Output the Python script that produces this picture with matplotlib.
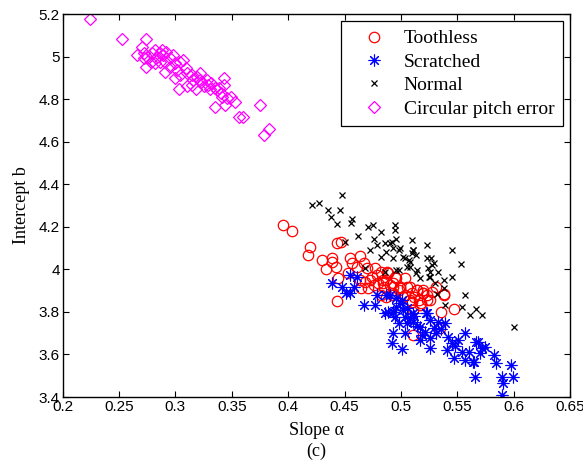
import matplotlib
matplotlib.use("Agg")
import matplotlib.pyplot as plt

# Toothless (red circles)
tooth_x = [0.395, 0.403, 0.419, 0.418, 0.430, 0.434, 0.439, 0.439, 0.442, 0.443,
           0.447, 0.444, 0.443, 0.455, 0.457, 0.464, 0.467, 0.461, 0.453, 0.470,
           0.477, 0.479, 0.473, 0.471, 0.480, 0.485, 0.489, 0.487, 0.493, 0.496,
           0.504, 0.499, 0.505, 0.510, 0.514, 0.520, 0.516, 0.523, 0.492, 0.482,
           0.464, 0.465, 0.488, 0.495, 0.484, 0.490, 0.499, 0.508, 0.514, 0.520,
           0.523, 0.538, 0.547, 0.536, 0.517, 0.510, 0.504, 0.493, 0.484, 0.493,
           0.487, 0.508, 0.511, 0.518, 0.526, 0.511, 0.535, 0.538, 0.520, 0.474,
           0.482, 0.468, 0.476, 0.498, 0.502, 0.512, 0.528, 0.531]
tooth_y = [4.209, 4.180, 4.107, 4.068, 4.044, 4.000, 4.052, 4.036, 4.010, 4.122,
           4.130, 3.958, 3.853, 4.052, 4.028, 4.063, 4.028, 4.013, 3.982, 4.005,
           4.005, 3.974, 3.950, 3.911, 3.935, 3.919, 3.982, 3.950, 3.935, 3.958,
           3.958, 3.911, 3.919, 3.888, 3.903, 3.888, 3.856, 3.856, 3.880, 3.880,
           3.950, 3.911, 3.989, 3.966, 3.950, 3.927, 3.919, 3.919, 3.903, 3.903,
           3.880, 3.880, 3.812, 3.801, 3.833, 3.848, 3.880, 3.888, 3.934, 3.919,
           3.872, 3.856, 3.809, 3.840, 3.856, 3.692, 3.723, 3.884, 3.888, 3.965,
           3.990, 3.940, 3.925, 3.905, 3.870, 3.870, 3.895, 3.915]

# Scratched (blue asterisks)
scr_x = [0.455, 0.461, 0.439, 0.448, 0.458, 0.451, 0.455, 0.467, 0.477, 0.479,
         0.487, 0.496, 0.499, 0.489, 0.493, 0.495, 0.505, 0.511, 0.522, 0.490,
         0.486, 0.493, 0.496, 0.501, 0.504, 0.498, 0.505, 0.511, 0.517, 0.523,
         0.526, 0.529, 0.521, 0.493, 0.504, 0.492, 0.501, 0.517, 0.526, 0.526,
         0.533, 0.539, 0.542, 0.545, 0.541, 0.547, 0.551, 0.557, 0.554, 0.557,
         0.564, 0.567, 0.566, 0.568, 0.572, 0.570, 0.575, 0.565, 0.583, 0.584,
         0.590, 0.591, 0.590, 0.598, 0.599, 0.508, 0.514, 0.531, 0.536, 0.548,
         0.560, 0.502, 0.519, 0.512]
scr_y = [3.974, 3.963, 3.938, 3.919, 3.919, 3.888, 3.888, 3.833, 3.833, 3.880,
         3.880, 3.864, 3.840, 3.801, 3.801, 3.778, 3.817, 3.794, 3.794, 3.880,
         3.793, 3.801, 3.825, 3.856, 3.778, 3.746, 3.746, 3.754, 3.731, 3.793,
         3.762, 3.723, 3.707, 3.699, 3.703, 3.652, 3.626, 3.668, 3.676, 3.629,
         3.754, 3.746, 3.684, 3.652, 3.621, 3.582, 3.668, 3.699, 3.613, 3.574,
         3.566, 3.660, 3.496, 3.660, 3.629, 3.605, 3.637, 3.566, 3.597, 3.558,
         3.493, 3.464, 3.409, 3.550, 3.496, 3.770, 3.735, 3.700, 3.720, 3.640,
         3.610, 3.810, 3.690, 3.780]

# Normal (black crosses)
norm_x = [0.448, 0.421, 0.427, 0.435, 0.446, 0.438, 0.443, 0.457, 0.456, 0.462,
          0.471, 0.475, 0.482, 0.495, 0.495, 0.476, 0.479, 0.486, 0.490, 0.496,
          0.510, 0.493, 0.499, 0.487, 0.473, 0.482, 0.493, 0.507, 0.511, 0.513,
          0.505, 0.498, 0.514, 0.523, 0.523, 0.524, 0.468, 0.450, 0.502, 0.513,
          0.517, 0.492, 0.498, 0.511, 0.510, 0.545, 0.527, 0.529, 0.504, 0.508,
          0.508, 0.553, 0.486, 0.496, 0.526, 0.533, 0.526, 0.538, 0.545, 0.530,
          0.538, 0.532, 0.557, 0.539, 0.554, 0.561, 0.567, 0.572, 0.600, 0.528,
          0.525]
norm_y = [4.350, 4.303, 4.311, 4.279, 4.279, 4.245, 4.213, 4.235, 4.217, 4.157,
          4.201, 4.209, 4.177, 4.209, 4.185, 4.141, 4.115, 4.122, 4.122, 4.141,
          4.138, 4.099, 4.099, 4.083, 4.091, 4.060, 4.052, 4.044, 4.091, 4.068,
          4.013, 3.997, 3.997, 4.115, 4.052, 4.005, 4.005, 4.130, 4.060, 3.982,
          3.958, 4.130, 4.091, 4.091, 4.076, 4.091, 4.052, 4.028, 4.052, 4.036,
          4.013, 4.025, 3.989, 3.997, 3.989, 3.989, 3.966, 3.950, 3.966, 3.935,
          3.911, 3.884, 3.880, 3.833, 3.822, 3.786, 3.812, 3.786, 3.728, 4.021,
          3.963]

# Circular pitch error (magenta diamonds)
cpe_x = [0.224, 0.253, 0.274, 0.270, 0.266, 0.274, 0.272, 0.275, 0.279, 0.282,
         0.283, 0.286, 0.289, 0.292, 0.291, 0.295, 0.298, 0.300, 0.304, 0.301,
         0.307, 0.309, 0.310, 0.315, 0.316, 0.319, 0.322, 0.323, 0.328, 0.329,
         0.332, 0.335, 0.337, 0.340, 0.343, 0.343, 0.341, 0.346, 0.335, 0.344,
         0.353, 0.356, 0.360, 0.375, 0.379, 0.383, 0.291, 0.300, 0.303, 0.310,
         0.318, 0.322, 0.325, 0.286, 0.282, 0.295, 0.304, 0.315, 0.331, 0.339,
         0.349, 0.272, 0.278, 0.288]
cpe_y = [5.177, 5.082, 5.083, 5.047, 5.008, 4.953, 5.019, 5.000, 5.016, 5.031,
         4.992, 5.016, 5.008, 5.024, 4.977, 4.992, 5.008, 4.969, 4.977, 4.937,
         4.984, 4.945, 4.922, 4.914, 4.890, 4.906, 4.922, 4.883, 4.890, 4.867,
         4.875, 4.851, 4.843, 4.828, 4.898, 4.867, 4.812, 4.804, 4.765, 4.773,
         4.789, 4.718, 4.715, 4.771, 4.632, 4.659, 4.930, 4.898, 4.847, 4.862,
         4.847, 4.890, 4.862, 4.977, 4.969, 4.953, 4.914, 4.867, 4.847, 4.851,
         4.812, 4.992, 4.977, 5.031]

x_ticks = [0.2, 0.25, 0.3, 0.35, 0.4, 0.45, 0.5, 0.55, 0.6, 0.65]
x_tick_labels = ['0.2', '0.25', '0.3', '0.35', '0.4', '0.45', '0.5', '0.55', '0.6', '0.65']
y_ticks = [3.4, 3.6, 3.8, 4.0, 4.2, 4.4, 4.6, 4.8, 5.0, 5.2]
y_tick_labels = ['3.4', '3.6', '3.8', '4', '4.2', '4.4', '4.6', '4.8', '5', '5.2']

serif = 'Liberation Serif'
sans = 'Liberation Sans'

fig = plt.figure(figsize=(5.83, 4.68), dpi=100)
ax = fig.add_axes([0.1075, 0.1517, 0.8702, 0.818])

star = (8, 2, 0)
ax.plot(tooth_x, tooth_y, 'o', mfc='none', mec='red', ms=7.5, mew=0.9,
        label='Toothless')
ax.plot(scr_x, scr_y, ls='none', marker=star, color='blue', ms=8.5, mew=0.8,
        label='Scratched')
ax.plot(norm_x, norm_y, 'x', color='black', ms=4.5, mew=0.9, label='Normal')
ax.plot(cpe_x, cpe_y, 'D', mfc='none', mec='magenta', ms=6, mew=0.9,
        label='Circular pitch error')

ax.set_xlim(0.2, 0.65)
ax.set_ylim(3.4, 5.2)
ax.set_xticks(x_ticks)
ax.set_xticklabels(x_tick_labels, family=sans, fontsize=11)
ax.set_yticks(y_ticks)
ax.set_yticklabels(y_tick_labels, family=sans, fontsize=11)
ax.tick_params(direction='in', top=True, right=True, length=4, width=0.8, pad=2)
for s in ax.spines.values():
    s.set_linewidth(1.0)

ax.set_xlabel('Slope α\n(c)', family=serif, fontsize=13, linespacing=1.3,
              labelpad=6)
ax.set_ylabel('Intercept b', family=serif, fontsize=13, labelpad=6)

leg = ax.legend(loc='upper right', prop={'family': serif, 'size': 14},
                fancybox=False, edgecolor='black', framealpha=1,
                handlelength=2.5, handletextpad=0.3, borderaxespad=0.35,
                borderpad=0.45, labelspacing=0.3)
leg.get_frame().set_linewidth(0.9)

fig.savefig('out.png', dpi=100)
